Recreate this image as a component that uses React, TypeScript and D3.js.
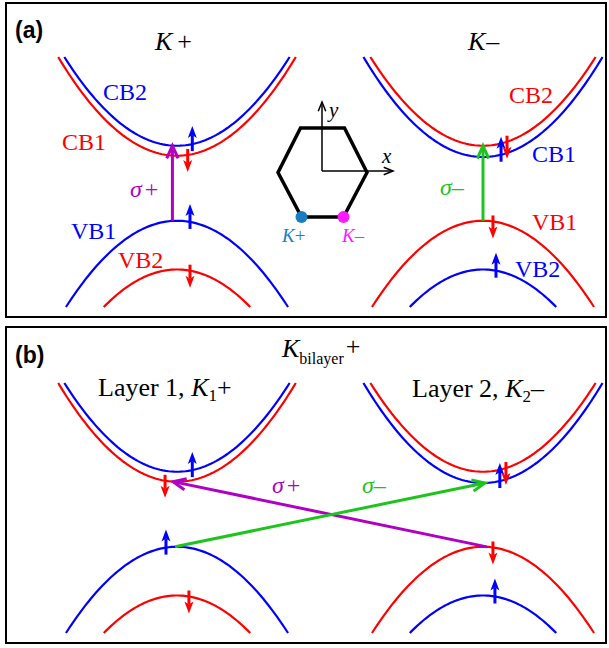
import * as d3 from 'd3';

const W = 609;
const H = 648;

// valleys: K+ at left, K− at right
const valleyNames = ['K+', 'K−'];
const valleyMomentum = [-1, 1];

// bands, ordered CB2, CB1, VB1, VB2 (vertex energies, arbitrary units)
const bandNames = ['CB2', 'CB1', 'VB1', 'VB2'];
const bandIsConduction = [true, true, false, false];
const bandEnergy = [
  [0.29, 0.21, -0.31, -0.7],
  [0.29, 0.2, -0.31, -0.7],
];
const bandSpin = [
  ['up', 'down', 'up', 'down'],
  ['down', 'up', 'down', 'up'],
];
const effMass = 1.31;

// where the spin arrow sits on each band (momentum offset from the valley)
const spinOffsetA = [
  [0.1, 0.07, 0.085, 0.085],
  [0.157, 0.118, 0.065, 0.085],
];
const spinOffsetB = [
  [0.1, -0.078, -0.072, 0.078],
  [0.15, 0.11, 0.065, 0.078],
];

// optical transitions: [valley, band, momentum offset]
const transitionsA = [
  { label: 'σ+', from: [0, 2, -0.03], to: [0, 0, -0.03] },
  { label: 'σ−', from: [1, 2, 0], to: [1, 0, 0] },
];
const transitionsB = [
  { label: 'σ+', from: [1, 2, 0.026], to: [0, 1, -0.026] },
  { label: 'σ−', from: [0, 2, -0.013], to: [1, 1, 0.013] },
];

const colors = {
  up: '#0000ff',
  down: '#ff0000',
  'σ+': '#b000c4',
  'σ−': '#1ec41e',
  kplus: '#1a7dc0',
  kminus: '#ff1aff',
};

const kScale = d3.scaleLinear().domain([-1, 1]).range([177, 483]);
const yA = d3.scaleLinear().domain([-1, 1]).range([307, 57]);
const yB = d3.scaleLinear().domain([-1, 1]).range([633, 383]);

const serif = '"Liberation Serif", "Times New Roman", serif';
const sans = '"Liberation Sans", Arial, sans-serif';

function bandE(v: number, b: number, dk: number) {
  const s = bandIsConduction[b] ? 1 : -1;
  return bandEnergy[v][b] + s * effMass * dk * dk;
}

function bandPath(v: number, b: number, y: any) {
  const e0 = bandEnergy[v][b];
  const kmax = bandIsConduction[b] ? Math.sqrt((1 - e0) / effMass) : Math.sqrt((e0 + 1) / effMass);
  const pts = d3.range(0, 81).map(i => -kmax + (2 * kmax * i) / 80);
  const line = d3
    .line<number>()
    .x(dk => kScale(valleyMomentum[v] + dk))
    .y(dk => y(bandE(v, b, dk)));
  return line(pts);
}

function SpinArrow({ x, yb, up, color }) {
  const s = up ? 1 : -1;
  const tail = up ? yb + 7 : yb - 6;
  const tip = up ? yb - 18 : yb + 17;
  const head = [
    [x, tip],
    [x - 4.5, tip + s * 12],
    [x, tip + s * 9],
    [x + 4.5, tip + s * 12],
  ];
  return (
    <g>
      <line x1={x} y1={tail} x2={x} y2={tip + s * 9} stroke={color} strokeWidth={3} />
      <polygon points={head.map(p => p.join(',')).join(' ')} fill={color} />
    </g>
  );
}

function Arrow({ x0, y0, x1, y1, color, width = 3, len = 14, ang = 24 }) {
  const t = Math.atan2(y1 - y0, x1 - x0);
  const a = (ang * Math.PI) / 180;
  const l = [x1 - len * Math.cos(t - a), y1 - len * Math.sin(t - a)];
  const r = [x1 - len * Math.cos(t + a), y1 - len * Math.sin(t + a)];
  return (
    <g fill="none" stroke={color} strokeWidth={width}>
      <line x1={x0} y1={y0} x2={x1} y2={y1} />
      <polyline points={`${l[0]},${l[1]} ${x1},${y1} ${r[0]},${r[1]}`} strokeLinejoin="miter" />
    </g>
  );
}

function Panel({ y, spinOffset, transitions }) {
  const bands = [];
  const spins = [];
  valleyNames.forEach((_, v) => {
    bandNames.forEach((_, b) => {
      const col = colors[bandSpin[v][b]];
      bands.push(<path key={`b${v}${b}`} d={bandPath(v, b, y)} fill="none" stroke={col} strokeWidth={2.2} />);
      const dk = spinOffset[v][b];
      spins.push(
        <SpinArrow
          key={`s${v}${b}`}
          x={kScale(valleyMomentum[v] + dk)}
          yb={y(bandE(v, b, dk))}
          up={bandSpin[v][b] === 'up'}
          color={col}
        />
      );
    });
  });
  const arrows = transitions.map((t, i) => {
    const [v0, b0, d0] = t.from;
    const [v1, b1, d1] = t.to;
    return (
      <Arrow
        key={`t${i}`}
        x0={kScale(valleyMomentum[v0] + d0)}
        y0={y(bandE(v0, b0, d0))}
        x1={kScale(valleyMomentum[v1] + d1)}
        y1={y(bandE(v1, b1, d1))}
        color={colors[t.label]}
      />
    );
  });
  return (
    <g>
      {bands}
      {arrows}
      {spins}
    </g>
  );
}

function Sigma({ x, y, label }) {
  return (
    <text x={x} y={y} fill={colors[label]} fontFamily={serif} fontSize={24}>
      <tspan fontStyle="italic">σ</tspan>
      <tspan dx={label.endsWith('+') ? 3 : 0}>{label.endsWith('+') ? '+' : '–'}</tspan>
    </text>
  );
}

function BandLabel({ x, y, v, b }) {
  return (
    <text x={x} y={y} fill={colors[bandSpin[v][b]]} fontFamily={serif} fontSize={24}>
      {bandNames[b]}
    </text>
  );
}

export default function App() {
  // Brillouin zone hexagon
  const hc = [322.5, 172.5];
  const hex = [
    [-22, -44.5],
    [22, -44.5],
    [44.5, 0],
    [21, 44.5],
    [-21, 44.5],
    [-44.5, 0],
  ].map(p => [hc[0] + p[0], hc[1] + p[1]]);
  const hexPath = d3.line().curve(d3.curveLinearClosed)(hex as [number, number][]);
  const org = [322, 171];

  return (
    <svg width={W} height={H} style={{ position: 'absolute', left: 0, top: 0, background: '#fff' }}>
      <rect x={6} y={3} width={600} height={314} fill="none" stroke="#000" strokeWidth={2} />
      <rect x={6} y={327} width={600} height={316} fill="none" stroke="#000" strokeWidth={2} />

      <text x={15} y={38} fontFamily={sans} fontWeight="bold" fontSize={23}>(a)</text>
      <text x={15} y={363} fontFamily={sans} fontWeight="bold" fontSize={23}>(b)</text>

      {/* panel (a) */}
      <Panel y={yA} spinOffset={spinOffsetA} transitions={transitionsA} />
      <text x={155} y={50} fontFamily={serif} fontSize={26}>
        <tspan fontStyle="italic">K</tspan>
        <tspan dx={5}>+</tspan>
      </text>
      <text x={468} y={50} fontFamily={serif} fontSize={26}>
        <tspan fontStyle="italic">K</tspan>
        <tspan dx={1}>–</tspan>
      </text>
      <BandLabel x={103} y={100} v={0} b={0} />
      <BandLabel x={62} y={150} v={0} b={1} />
      <BandLabel x={71} y={239} v={0} b={2} />
      <BandLabel x={118} y={268} v={0} b={3} />
      <BandLabel x={509} y={103} v={1} b={0} />
      <BandLabel x={532} y={162} v={1} b={1} />
      <BandLabel x={532} y={230} v={1} b={2} />
      <BandLabel x={515} y={277} v={1} b={3} />
      <Sigma x={130} y={197} label="σ+" />
      <Sigma x={440} y={195} label="σ−" />

      {/* hexagon with axes */}
      <path d={hexPath} fill="none" stroke="#000" strokeWidth={3.5} strokeLinejoin="miter" />
      <Arrow x0={org[0]} y0={org[1]} x1={org[0]} y1={102} color="#000" width={1.5} len={10} ang={22} />
      <Arrow x0={org[0]} y0={org[1]} x1={393} y1={org[1]} color="#000" width={1.5} len={10} ang={22} />
      <text x={329} y={117} fontFamily={serif} fontStyle="italic" fontSize={21}>y</text>
      <text x={382} y={163} fontFamily={serif} fontStyle="italic" fontSize={21}>x</text>
      <circle cx={hex[4][0]} cy={hex[4][1]} r={6} fill={colors.kplus} />
      <circle cx={hex[3][0]} cy={hex[3][1]} r={6} fill={colors.kminus} />
      <text x={282} y={242} fill={colors.kplus} fontFamily={serif} fontSize={19}>
        <tspan fontStyle="italic">K</tspan>+
      </text>
      <text x={342} y={242} fill={colors.kminus} fontFamily={serif} fontSize={19}>
        <tspan fontStyle="italic">K</tspan>–
      </text>

      {/* panel (b) */}
      <Panel y={yB} spinOffset={spinOffsetB} transitions={transitionsB} />
      <text x={282} y={357} fontFamily={serif} fontSize={26}>
        <tspan fontStyle="italic">K</tspan>
        <tspan fontSize={16} dy={7}>bilayer</tspan>
        <tspan dy={-9} dx={2}>+</tspan>
      </text>
      <text x={98} y={396} fontFamily={serif} fontSize={26}>
        Layer 1, <tspan fontStyle="italic">K</tspan>
        <tspan fontSize={17} dy={5}>1</tspan>
        <tspan dy={-5}>+</tspan>
      </text>
      <text x={412} y={397} fontFamily={serif} fontSize={26}>
        Layer 2, <tspan fontStyle="italic">K</tspan>
        <tspan fontSize={17} dy={5}>2</tspan>
        <tspan dy={-5}>–</tspan>
      </text>
      <Sigma x={272} y={493} label="σ+" />
      <Sigma x={362} y={493} label="σ−" />
    </svg>
  );
}
